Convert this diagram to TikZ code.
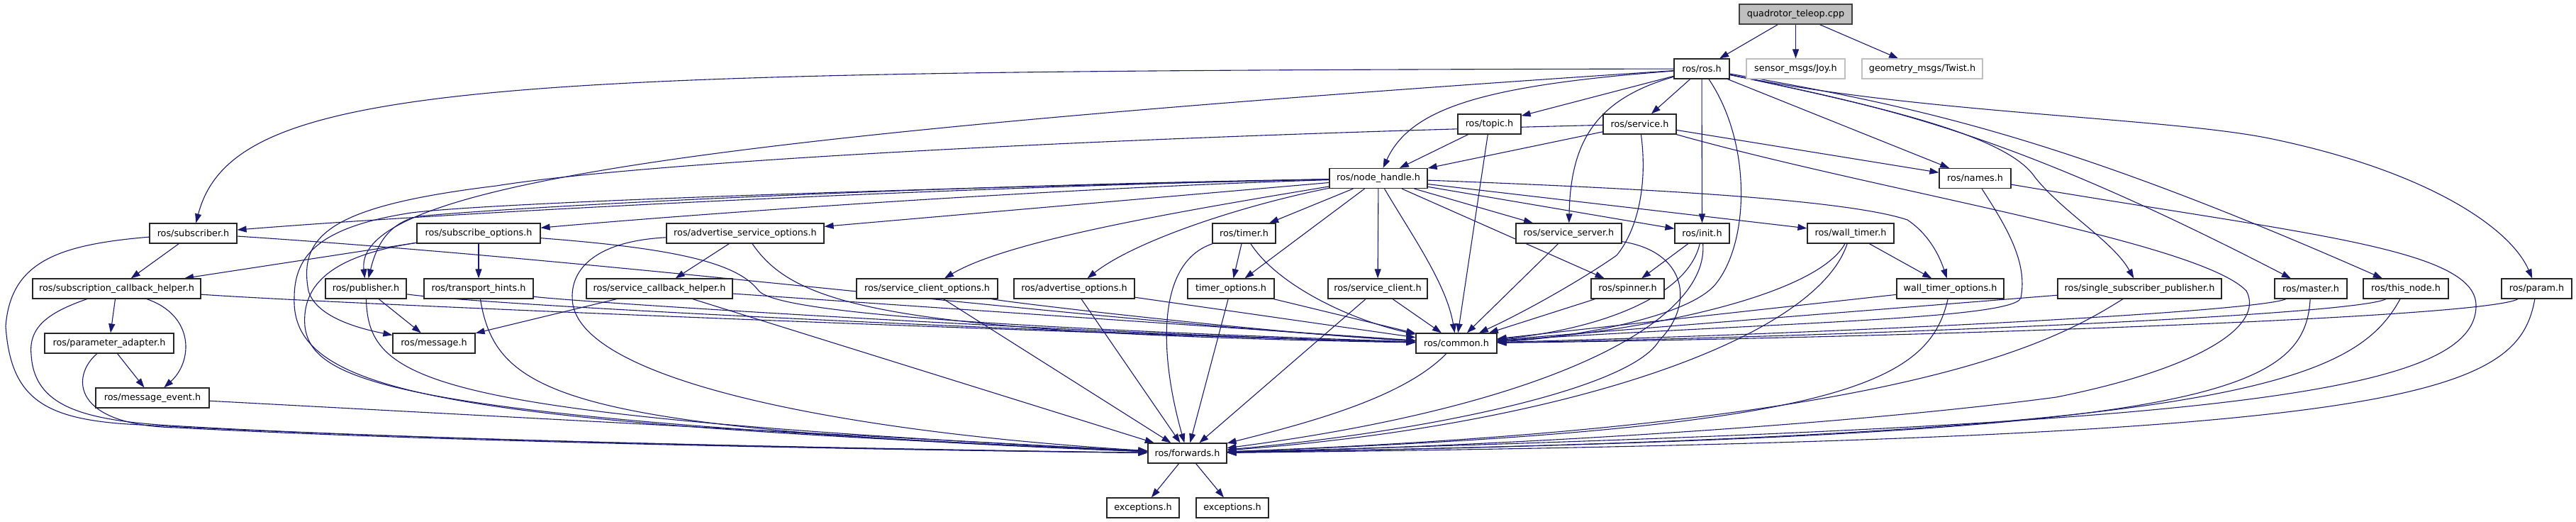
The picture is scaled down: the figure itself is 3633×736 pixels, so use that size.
\documentclass[tikz,border=0pt]{standalone}
\usepackage{fontspec}
\setmainfont{DejaVu Sans}
\usetikzlibrary{arrows.meta}
\definecolor{edgec}{HTML}{191970}
\pgfdeclarelayer{edges}
\pgfsetlayers{edges,main}
\begin{document}
\begin{tikzpicture}[x=1pt,y=-1pt,
  nb/.style={draw=black!85, line width=1.2pt, fill=white, minimum height=28pt, inner sep=0pt, font=\fontsize{12.8}{14}\selectfont},
  gb/.style={nb, draw=black!25},
  cb/.style={nb, fill=black!25, draw=black!75},
  e/.style={draw=edgec, line width=1.1pt, -{Triangle[length=13pt,width=9pt]}}]
\useasboundingbox (0,0) rectangle (3633,736);
% nodes
\node[cb, minimum width=159pt] (cpp) at (2532.5,20) {quadrotor\_teleop.cpp};
\node[nb, minimum width=78pt] (ros) at (2400,97) {ros/ros.h};
\node[gb, minimum width=139pt] (joy) at (2532.5,97) {sensor\_msgs/Joy.h};
\node[gb, minimum width=170pt] (twist) at (2711,97) {geometry\_msgs/Twist.h};
\node[nb, minimum width=89pt] (topic) at (2100.5,175) {ros/topic.h};
\node[nb, minimum width=103pt] (service) at (2312.5,175) {ros/service.h};
\node[nb, minimum width=138pt] (nh) at (1944,251.5) {ros/node\_handle.h};
\node[nb, minimum width=101pt] (names) at (2785.5,251.5) {ros/names.h};
\node[nb, minimum width=123pt] (sub) at (272.5,329) {ros/subscriber.h};
\node[nb, minimum width=174pt] (subopt) at (675,329) {ros/subscribe\_options.h};
\node[nb, minimum width=222pt] (aso) at (1051,329) {ros/advertise\_service\_options.h};
\node[nb, minimum width=89pt] (timer) at (1754.5,329) {ros/timer.h};
\node[nb, minimum width=149pt] (ss) at (2212.5,329) {ros/service\_server.h};
\node[nb, minimum width=77pt] (init) at (2400.5,329) {ros/init.h};
\node[nb, minimum width=122pt] (wt) at (2610,329) {ros/wall\_timer.h};
\node[nb, minimum width=237pt] (sch) at (164.5,407) {ros/subscription\_callback\_helper.h};
\node[nb, minimum width=114pt] (pub) at (516,407) {ros/publisher.h};
\node[nb, minimum width=154pt] (th) at (675,407) {ros/transport\_hints.h};
\node[nb, minimum width=206pt] (scbh) at (930,407) {ros/service\_callback\_helper.h};
\node[nb, minimum width=199pt] (sco) at (1307.5,407) {ros/service\_client\_options.h};
\node[nb, minimum width=170pt] (ao) at (1515,407) {ros/advertise\_options.h};
\node[nb, minimum width=122pt] (to) at (1736,407) {timer\_options.h};
\node[nb, minimum width=140pt] (sc) at (1943,407) {ros/service\_client.h};
\node[nb, minimum width=103pt] (spin) at (2295.5,407) {ros/spinner.h};
\node[nb, minimum width=151pt] (wto) at (2750.5,407) {wall\_timer\_options.h};
\node[nb, minimum width=231pt] (ssp) at (3017.5,407) {ros/single\_subscriber\_publisher.h};
\node[nb, minimum width=102pt] (master) at (3259,407) {ros/master.h};
\node[nb, minimum width=120pt] (tn) at (3393,407) {ros/this\_node.h};
\node[nb, minimum width=99pt] (param) at (3577.5,407) {ros/param.h};
\node[nb, minimum width=182pt] (pa) at (154,484) {ros/parameter\_adapter.h};
\node[nb, minimum width=116pt] (msg) at (612,484) {ros/message.h};
\node[nb, minimum width=114pt] (common) at (2054,484) {ros/common.h};
\node[nb, minimum width=160pt] (mev) at (215,561) {ros/message\_event.h};
\node[nb, minimum width=111pt] (fwd) at (1674.5,639) {ros/forwards.h};
\node[nb, minimum width=102pt] (exa) at (1612,716) {exceptions.h};
\node[nb, minimum width=102pt] (exb) at (1738,716) {exceptions.h};
\begin{pgfonlayer}{edges}
% edges from cpp
\draw[e] (cpp) -- (ros);
\draw[e] (cpp) -- (joy);
\draw[e] (cpp) -- (twist);
% ros.h
\draw[e] (ros) .. controls (700,100) and (330,110) .. (sub);
\draw[e] (ros) .. controls (1000,190) and (500,260) .. (pub);
\draw[e] (ros) .. controls (2100,120) and (1990,150) .. (nh);
\draw[e] (ros) -- (topic);
\draw[e] (ros) -- (service);
\draw[e] (ros) -- (init);
\draw[e] (ros) .. controls (2470,200) and (2468,340) .. (2420,400) .. controls (2380,450) and (2200,478) .. (common);
\draw[e] (ros) .. controls (2250,140) and (2215,200) .. (ss);
\draw[e] (ros) -- (names);
\draw[e] (ros) .. controls (2650,150) and (2830,190) .. (2870,250) .. controls (2910,300) and (2980,340) .. (ssp);
\draw[e] (ros) .. controls (2650,150) and (2820,180) .. (master);
\draw[e] (ros) .. controls (2700,150) and (2900,190) .. (tn);
\draw[e] (ros) .. controls (2700,160) and (3050,165) .. (3200,195) .. controls (3420,240) and (3540,320) .. (param);
% topic
\draw[e] (topic) -- (nh);
\draw[e] (topic) -- (common);
% service
\draw[e] (service) -- (nh);
\draw[e] (service) .. controls (1500,195) and (900,230) .. (700,262) .. controls (470,290) and (420,330) .. (435,410) .. controls (445,445) and (500,462) .. (msg);
\draw[e] (service) .. controls (2325,270) and (2305,330) .. (2280,360) .. controls (2230,395) and (2150,440) .. (common);
\draw[e] (service) -- (names);
\draw[e] (service) .. controls (2650,270) and (3100,340) .. (3168,410) .. controls (3195,460) and (3100,520) .. (2900,560) .. controls (2600,600) and (2100,630) .. (fwd);
% node_handle
\draw[e] (nh) .. controls (1400,262) and (700,295) .. (sub);
\draw[e] (nh) .. controls (1500,265) and (1000,300) .. (subopt);
\draw[e] (nh) -- (aso);
\draw[e] (nh) .. controls (1300,262) and (750,290) .. (590,305) .. controls (545,315) and (530,350) .. (pub);
\draw[e] (nh) .. controls (1300,265) and (700,285) .. (580,300) .. controls (450,320) and (415,360) .. (415,420) .. controls (410,560) and (650,595) .. (fwd);
\draw[e] (nh) .. controls (1650,300) and (1420,340) .. (sco);
\draw[e] (nh) .. controls (1750,290) and (1600,340) .. (ao);
\draw[e] (nh) -- (timer);
\draw[e] (nh) -- (to);
\draw[e] (nh) -- (sc);
\draw[e] (nh) .. controls (1990,330) and (2040,400) .. (common);
\draw[e] (nh) -- (spin);
\draw[e] (nh) -- (ss);
\draw[e] (nh) -- (init);
\draw[e] (nh) -- (wt);
\draw[e] (nh) .. controls (2300,265) and (2600,280) .. (2690,310) .. controls (2720,330) and (2735,360) .. (wto);
% timer
\draw[e] (timer) -- (to);
\draw[e] (timer) .. controls (1800,400) and (1900,450) .. (common);
\draw[e] (timer) .. controls (1630,370) and (1635,500) .. (fwd);
% service_server
\draw[e] (ss) -- (common);
\draw[e] (ss) .. controls (2380,355) and (2390,430) .. (2340,480) .. controls (2300,550) and (2000,610) .. (fwd);
% init
\draw[e] (init) -- (spin);
\draw[e] (init) .. controls (2380,420) and (2250,465) .. (common);
\draw[e] (init) .. controls (2410,450) and (2200,570) .. (fwd);
% wall_timer
\draw[e] (wt) -- (wto);
\draw[e] (wt) .. controls (2560,420) and (2300,470) .. (common);
\draw[e] (wt) .. controls (2560,480) and (2200,600) .. (fwd);
% wall_timer_options
\draw[e] (wto) -- (common);
\draw[e] (wto) .. controls (2720,540) and (2600,605) .. (fwd);
% single_subscriber_publisher
\draw[e] (ssp) -- (common);
\draw[e] (ssp) .. controls (2900,480) and (2700,600) .. (fwd);
% master
\draw[e] (master) .. controls (3180,440) and (2600,470) .. (common);
\draw[e] (master) .. controls (3250,560) and (3100,615) .. (fwd);
% this_node
\draw[e] (tn) .. controls (3320,445) and (2600,475) .. (common);
\draw[e] (tn) .. controls (3320,540) and (3150,615) .. (fwd);
% param
\draw[e] (param) .. controls (3500,450) and (2600,478) .. (common);
\draw[e] (param) .. controls (3550,560) and (3400,620) .. (fwd);
% names
\draw[e] (names) .. controls (2830,320) and (2860,370) .. (2850,420) .. controls (2840,450) and (2500,455) .. (common);
\draw[e] (names) .. controls (3250,330) and (3490,350) .. (3492,430) .. controls (3494,560) and (3100,600) .. (fwd);
% spinner, service_client, timer_options, advertise_options, service_client_options
\draw[e] (spin) -- (common);
\draw[e] (sc) -- (common);
\draw[e] (sc) -- (fwd);
\draw[e] (to) -- (common);
\draw[e] (to) -- (fwd);
\draw[e] (ao) -- (common);
\draw[e] (ao) -- (fwd);
\draw[e] (sco) .. controls (1450,430) and (1800,470) .. (common);
\draw[e] (sco) -- (fwd);
% advertise_service_options
\draw[e] (aso) -- (scbh);
\draw[e] (aso) .. controls (1120,430) and (1250,470) .. (common);
\draw[e] (aso) .. controls (840,340) and (800,380) .. (808,430) .. controls (830,540) and (1200,610) .. (fwd);
% subscribe_options
\draw[e] (subopt) -- (sch);
\draw[e] (subopt) -- (th);
\draw[e] (subopt) .. controls (950,350) and (1040,370) .. (1070,410) .. controls (1100,445) and (1500,465) .. (common);
\draw[e] (subopt) .. controls (470,360) and (425,400) .. (430,460) .. controls (440,540) and (560,590) .. (fwd);
% transport_hints
\draw[e] (th) .. controls (800,425) and (1500,470) .. (common);
\draw[e] (th) .. controls (700,560) and (800,605) .. (fwd);
% publisher
\draw[e] (pub) -- (msg);
\draw[e] (pub) .. controls (700,432) and (1500,470) .. (common);
\draw[e] (pub) .. controls (520,540) and (600,585) .. (fwd);
% service_callback_helper
\draw[e] (scbh) -- (msg);
\draw[e] (scbh) -- (common);
\draw[e] (scbh) -- (fwd);
% subscriber
\draw[e] (sub) -- (sch);
\draw[e] (sub) .. controls (900,370) and (1500,450) .. (common);
\draw[e] (sub) .. controls (80,345) and (15,370) .. (8,460) .. controls (15,560) and (60,590) .. (180,598) .. controls (600,622) and (1300,635) .. (fwd);
% subscription_callback_helper
\draw[e] (sch) -- (pa);
\draw[e] (sch) .. controls (275,445) and (272,510) .. (mev);
\draw[e] (sch) .. controls (500,430) and (1500,470) .. (common);
\draw[e] (sch) .. controls (70,440) and (40,460) .. (44,500) .. controls (48,570) and (110,592) .. (240,600) .. controls (600,622) and (1300,634) .. (fwd);
% parameter_adapter
\draw[e] (pa) -- (mev);
\draw[e] (pa) .. controls (100,530) and (100,600) .. (250,603) .. controls (600,622) and (1200,634) .. (fwd);
% message_event, common, forwards
\draw[e] (mev) -- (fwd);
\draw[e] (common) .. controls (1980,560) and (1850,595) .. (fwd);
\draw[e] (fwd) -- (exa);
\draw[e] (fwd) -- (exb);
\end{pgfonlayer}
\end{tikzpicture}
\end{document}
